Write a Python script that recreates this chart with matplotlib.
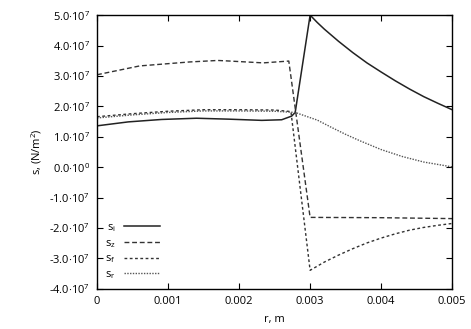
import matplotlib
matplotlib.use("Agg")
import matplotlib.pyplot as plt
from matplotlib.ticker import FuncFormatter, MultipleLocator

plt.rcParams['font.family'] = ['Open Sans', 'DejaVu Sans']
plt.rcParams['font.size'] = 8

# radius (m) and stresses (units of 1e7 N/m^2)
r_i = [0, 0.00044, 0.00091, 0.0014, 0.00185, 0.00232, 0.0026, 0.00274, 0.00279,
       0.003, 0.0031, 0.0032, 0.0034, 0.0036, 0.0038, 0.004, 0.0042, 0.0044,
       0.0046, 0.0048, 0.005]
s_i = [1.36, 1.49, 1.57, 1.61, 1.58, 1.54, 1.56, 1.68, 1.80,
       5.0, 4.76, 4.54, 4.14, 3.77, 3.43, 3.13, 2.84, 2.57,
       2.32, 2.10, 1.89]

r_z = [0, 0.0006, 0.0013, 0.0017, 0.00187, 0.00234, 0.0027, 0.003, 0.004, 0.005]
s_z = [3.04, 3.33, 3.46, 3.51, 3.49, 3.43, 3.49, -1.65, -1.66, -1.69]

r_f = [0, 0.0005, 0.001, 0.0015, 0.002, 0.0025, 0.00273,
       0.003, 0.0032, 0.0034, 0.0036, 0.0038, 0.004, 0.0042, 0.0044,
       0.0046, 0.0048, 0.005]
s_f = [1.66, 1.76, 1.84, 1.89, 1.89, 1.88, 1.83,
       -3.39, -3.12, -2.89, -2.68, -2.49, -2.33, -2.19, -2.07,
       -1.98, -1.91, -1.85]

r_r = [0, 0.0005, 0.001, 0.0015, 0.002, 0.0025, 0.00279,
       0.003, 0.0031, 0.0033, 0.0035, 0.0037, 0.004, 0.0043, 0.0046, 0.005]
s_r = [1.62, 1.72, 1.80, 1.85, 1.85, 1.84, 1.80,
       1.63, 1.55, 1.31, 1.08, 0.87, 0.58, 0.35, 0.17, 0.01]

labels = ['s$_\\mathregular{i}$', 's$_\\mathregular{z}$', 's$_\\mathregular{f}$', 's$_\\mathregular{r}$']

fig = plt.figure(figsize=(4.71, 3.29), dpi=100)
ax = fig.add_axes([0.206, 0.122, 0.754, 0.832])

ax.plot(r_i, [v * 1e7 for v in s_i], color='#222222', lw=1.1, ls='-', label=labels[0])
ax.plot(r_z, [v * 1e7 for v in s_z], color='#333333', lw=1.0, ls=(0, (3.5, 2)), label=labels[1])
ax.plot(r_f, [v * 1e7 for v in s_f], color='#333333', lw=1.0, ls=(0, (2, 1.8)), label=labels[2])
ax.plot(r_r, [v * 1e7 for v in s_r], color='#555555', lw=1.0, ls=(0, (1, 1)), label=labels[3])

ax.set_xlim(0, 0.005)
ax.set_ylim(-4e7, 5e7)
ax.xaxis.set_major_locator(MultipleLocator(0.001))
ax.yaxis.set_major_locator(MultipleLocator(1e7))


def fmt_y(v, pos):
    if abs(v) < 1:
        return '0.0·10$\\mathregular{^{0}}$'
    return '%.1f·10$\\mathregular{^{7}}$' % (v / 1e7)


def fmt_x(v, pos):
    if abs(v) < 1e-9:
        return '0'
    return '%.3f' % v


ax.yaxis.set_major_formatter(FuncFormatter(fmt_y))
ax.xaxis.set_major_formatter(FuncFormatter(fmt_x))
ax.tick_params(direction='in', top=True, right=True, length=4, width=0.8, pad=5)
for s in ax.spines.values():
    s.set_linewidth(1.0)

ax.set_xlabel('r, m', labelpad=5)
ax.set_ylabel('s, (N/m$\\mathregular{^2}$)', labelpad=4)

ax.legend(loc='lower left', frameon=False, markerfirst=False, handlelength=3.2,
          labelspacing=0.35, borderaxespad=0.3, bbox_to_anchor=(0.0, 0.0))

fig.savefig('out.png', dpi=100)
